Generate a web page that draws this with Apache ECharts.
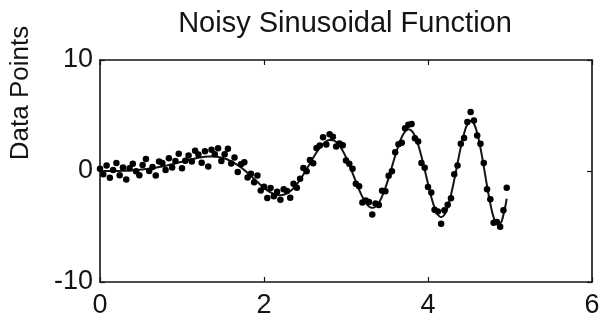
<!DOCTYPE html>
<html>
<head>
<meta charset="utf-8">
<script src="https://cdn.jsdelivr.net/npm/echarts@6/dist/echarts.min.js"></script>
<style>
  html, body { margin: 0; padding: 0; background: #fff; }
  #chart { width: 605px; height: 328px; }
</style>
</head>
<body>
<div id="chart"></div>
<script>
// x positions of the samples (step 0.04)
const xs = [
  0.00, 0.04, 0.08, 0.12, 0.16, 0.20, 0.24, 0.28, 0.32, 0.36,
  0.40, 0.44, 0.48, 0.52, 0.56, 0.60, 0.64, 0.68, 0.72, 0.76,
  0.80, 0.84, 0.88, 0.92, 0.96, 1.00, 1.04, 1.08, 1.12, 1.16,
  1.20, 1.24, 1.28, 1.32, 1.36, 1.40, 1.44, 1.48, 1.52, 1.56,
  1.60, 1.64, 1.68, 1.72, 1.76, 1.80, 1.84, 1.88, 1.92, 1.96,
  2.00, 2.04, 2.08, 2.12, 2.16, 2.20, 2.24, 2.28, 2.32, 2.36,
  2.40, 2.44, 2.48, 2.52, 2.56, 2.60, 2.64, 2.68, 2.72, 2.76,
  2.80, 2.84, 2.88, 2.92, 2.96, 3.00, 3.04, 3.08, 3.12, 3.16,
  3.20, 3.24, 3.28, 3.32, 3.36, 3.40, 3.44, 3.48, 3.52, 3.56,
  3.60, 3.64, 3.68, 3.72, 3.76, 3.80, 3.84, 3.88, 3.92, 3.96,
  4.00, 4.04, 4.08, 4.12, 4.16, 4.20, 4.24, 4.28, 4.32, 4.36,
  4.40, 4.44, 4.48, 4.52, 4.56, 4.60, 4.64, 4.68, 4.72, 4.76,
  4.80, 4.84, 4.88, 4.92, 4.96
]

// noisy measured points
const noisy = [
  0.20, -0.30, 0.50, -0.60, 0.10, 0.71, -0.39, 0.32, -0.77, 0.25,
  0.66, -0.02, -0.39, 0.54, 1.07, 0.01, 0.35, -0.40, 0.86, 0.71,
  0.08, 1.14, 0.32, 0.89, 1.56, 0.24, 0.92, 1.39, 0.86, 1.83,
  1.49, 0.74, 1.78, 0.40, 1.91, 1.50, 2.06, 0.91, 1.52, 2.01,
  0.68, 1.21, -0.08, 0.61, 0.78, -0.58, -0.24, -1.02, -0.40, -1.76,
  -1.41, -2.44, -1.53, -2.27, -1.86, -2.58, -1.64, -1.81, -2.42, -1.14,
  -1.50, -0.69, 0.27, -0.03, 0.98, 0.69, 2.07, 2.30, 3.04, 2.38,
  3.30, 3.08, 2.21, 2.48, 2.32, 0.94, 0.65, 0.21, -1.15, -1.38,
  -2.83, -2.65, -2.79, -3.92, -2.92, -3.07, -1.79, -1.82, -0.42, -0.02,
  1.68, 2.40, 2.55, 3.85, 4.16, 4.23, 2.95, 2.66, 0.71, 0.30,
  -1.45, -1.94, -3.50, -3.64, -4.76, -3.53, -3.05, -2.46, -0.30, 0.49,
  2.45, 2.98, 4.41, 5.32, 4.55, 3.20, 2.46, 0.72, -1.64, -2.54,
  -4.66, -4.59, -5.03, -3.53, -1.50
]

// fitted curve through the points
const fitted = [
  0.00, 0.00, 0.00, 0.00, 0.00, 0.01, 0.01, 0.02, 0.03, 0.05,
  0.06, 0.08, 0.11, 0.14, 0.17, 0.21, 0.25, 0.30, 0.36, 0.41,
  0.48, 0.54, 0.62, 0.69, 0.76, 0.84, 0.92, 0.99, 1.06, 1.13,
  1.19, 1.24, 1.28, 1.30, 1.31, 1.30, 1.26, 1.21, 1.12, 1.01,
  0.88, 0.71, 0.52, 0.31, 0.08, -0.18, -0.44, -0.72, -1.00, -1.26,
  -1.51, -1.74, -1.93, -2.07, -2.16, -2.18, -2.14, -2.01, -1.82, -1.54,
  -1.20, -0.79, -0.33, 0.17, 0.68, 1.19, 1.67, 2.10, 2.44, 2.68,
  2.80, 2.78, 2.61, 2.28, 1.82, 1.24, 0.55, -0.19, -0.95, -1.68,
  -2.33, -2.85, -3.19, -3.32, -3.22, -2.87, -2.29, -1.52, -0.62, 0.38,
  1.38, 2.30, 3.05, 3.55, 3.76, 3.63, 3.15, 2.36, 1.31, 0.10,
  -1.15, -2.34, -3.30, -3.94, -4.16, -3.93, -3.25, -2.16, -0.80, 0.69,
  2.15, 3.38, 4.21, 4.52, 4.25, 3.40, 2.06, 0.42, -1.34, -2.94,
  -4.16, -4.79, -4.73, -3.93, -2.50
]

const xTicks = [0, 2, 4, 6]
const yTicks = [-10, 0, 10]

const ink = '#141414'
const font = 'Liberation Sans'

function pairs(ys) {
  return xs.map((x, i) => [x, ys[i]])
}

function axisBase(min, max, interval, showLabel) {
  return {
    type: 'value',
    min: min,
    max: max,
    interval: interval,
    splitLine: { show: false },
    axisLine: { show: true, onZero: false, lineStyle: { color: ink, width: 1.6 } },
    axisTick: { show: true, inside: true, length: 5, lineStyle: { color: ink, width: 1.2 } },
    axisLabel: { show: showLabel, color: ink, fontFamily: font, fontSize: 27 }
  }
}

const chart = echarts.init(document.getElementById('chart'))

const xMain = axisBase(xTicks[0], xTicks[xTicks.length - 1], 2, true)
xMain.position = 'bottom'
xMain.axisLabel.margin = 10
const xTop = axisBase(xTicks[0], xTicks[xTicks.length - 1], 2, false)
xTop.position = 'top'

const yMain = axisBase(yTicks[0], yTicks[yTicks.length - 1], 10, true)
yMain.position = 'left'
yMain.axisLabel.margin = 7
yMain.name = 'Data Points'
yMain.nameLocation = 'middle'
yMain.nameRotate = 90
yMain.nameGap = 66
yMain.nameTextStyle = { color: ink, fontFamily: font, fontSize: 26, padding: [0, 0, 0, 156] }
const yRight = axisBase(yTicks[0], yTicks[yTicks.length - 1], 10, false)
yRight.position = 'right'

chart.setOption({
  backgroundColor: '#fff',
  animation: false,
  title: {
    text: 'Noisy Sinusoidal Function',
    left: 340,
    textAlign: 'center',
    top: 4,
    textStyle: { color: ink, fontFamily: font, fontSize: 29, fontWeight: 'normal' }
  },
  grid: { left: 98, right: 13, top: 60, bottom: 46 },
  xAxis: [xMain, xTop],
  yAxis: [yMain, yRight],
  series: [
    {
      type: 'line',
      data: pairs(fitted),
      smooth: true,
      showSymbol: false,
      lineStyle: { color: ink, width: 2 },
      z: 2
    },
    {
      type: 'scatter',
      data: pairs(noisy),
      symbolSize: 6.5,
      itemStyle: { color: '#000', opacity: 1 },
      z: 3
    }
  ]
})
</script>
</body>
</html>
